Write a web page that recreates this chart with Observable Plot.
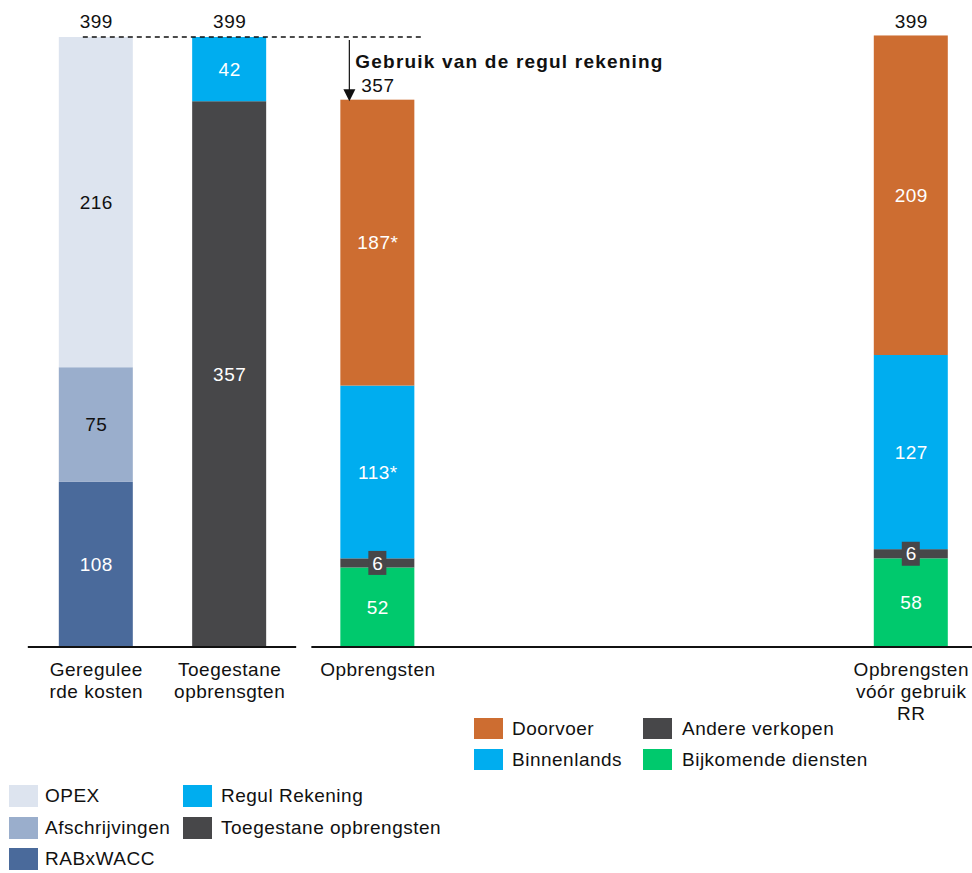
<!DOCTYPE html>
<html><head><meta charset="utf-8">
<script src="https://cdn.jsdelivr.net/npm/d3@7"></script>
<script src="https://cdn.jsdelivr.net/npm/@observablehq/plot@0.6"></script>
<style>
body{margin:0;background:#fff;font-family:"Liberation Sans",Arial,sans-serif;}
#wrap{position:relative;width:972px;height:873px;overflow:hidden;}
#wrap svg{position:absolute;left:0;top:0;}
.lt{position:absolute;font-size:19px;letter-spacing:0.5px;color:#111;white-space:nowrap;}
.sw{position:absolute;}
</style></head><body><div id="wrap"></div>
<script>
// ---- data ----
const categories = ["Geregulee\nrde kosten", "Toegestane\nopbrensgten", "Opbrengsten", "Opbrengsten\nvóór gebruik\nRR"];
const totals = [399, 399, 357, 399];

const costSeries = ["RABxWACC", "Afschrijvingen", "OPEX"];
const costValues = [108, 75, 216];
const costLabels = ["108", "75", "216"];

const allowedSeries = ["Toegestane opbrengsten", "Regul Rekening"];
const allowedValues = [357, 42];
const allowedLabels = ["357", "42"];

const revenueSeries = ["Bijkomende diensten", "Andere verkopen", "Binnenlands", "Doorvoer"];
const revenueValues = [52, 6, 113, 187];
const revenueLabels = ["52", "6", "113*", "187*"];
const revenueBeforeValues = [58, 6, 127, 209];
const revenueBeforeLabels = ["58", "6", "127", "209"];

const annotation = "Gebruik van de regul rekening";

// ---- styling ----
const colorOf = {
  "OPEX": "#dde4ef",
  "Afschrijvingen": "#9aaecc",
  "RABxWACC": "#4a6a9b",
  "Regul Rekening": "#00adef",
  "Toegestane opbrengsten": "#474749",
  "Doorvoer": "#cd6d31",
  "Binnenlands": "#00adef",
  "Andere verkopen": "#474749",
  "Bijkomende diensten": "#00c96d"
};
const darkText = new Set(["OPEX", "Afschrijvingen"]);
const FONT = '"Liberation Sans", Arial, sans-serif';

// build table
const rows = [];
function addBar(cat, series, values, labels) {
  series.forEach((s, i) => rows.push({cat, series: s, key: cat + "|" + s, value: values[i], label: labels[i]}));
}
addBar(categories[0], costSeries, costValues, costLabels);
addBar(categories[1], allowedSeries, allowedValues, allowedLabels);
addBar(categories[2], revenueSeries, revenueValues, revenueLabels);
addBar(categories[3], revenueSeries, revenueBeforeValues, revenueBeforeLabels);
const totalRows = categories.map((c, i) => ({cat: c, total: totals[i]}));

// x slots: spacer slots between the bars so the bars sit at uneven distances
const gaps = [8, 9, 35];
const slots = [];
categories.forEach((c, i) => {
  slots.push(c);
  if (i < gaps.length) for (let k = 0; k < gaps[i]; k++) slots.push(`gap${i}-${k}`);
});

const W = 972, H = 745;
const mL = 88.4, mR = 53.8;
const step = (W - mL - mR) / slots.length;
const barW = 74;
const inset = -(barW - step) / 2;

const chart = Plot.plot({
  width: W, height: H,
  marginLeft: mL, marginRight: mR, marginTop: 37, marginBottom: H - 647,
  style: {fontFamily: FONT, fontSize: "19px", letterSpacing: "0.5px", background: "#fff"},
  x: {type: "band", domain: slots, padding: 0, axis: null},
  y: {domain: [0, 399], axis: null},
  color: {domain: Object.keys(colorOf), range: Object.values(colorOf)},
  marks: [
    Plot.barY(rows, Plot.stackY({x: "cat", y: "value", z: "key", fill: "series", insetLeft: inset, insetRight: inset})),
    Plot.text(rows, Plot.stackY({x: "cat", y: "value", z: "key", text: d => darkText.has(d.series) ? "" : d.label, fill: "white", fontSize: 19})),
    Plot.text(rows, Plot.stackY({x: "cat", y: "value", z: "key", text: d => darkText.has(d.series) ? d.label : "", fill: "#111", fontSize: 19})),
    Plot.text(totalRows, {x: "cat", y: "total", text: d => String(d.total), dy: -15.5, fill: "#111", fontSize: 19}),
    Plot.text(categories, {x: d => d, frameAnchor: "bottom", lineAnchor: "top", dy: 13, lineHeight: 1.16, text: d => d, fill: "#111", fontSize: 19})
  ]
});

const wrap = document.getElementById("wrap");
wrap.appendChild(chart);

const sx = chart.scale("x"), sy = chart.scale("y");
const center = c => sx.apply(c) + sx.bandwidth / 2;
const svg = d3.select(chart);
const y0 = sy.apply(0);

// boxes behind the small "Andere verkopen" labels
const boxes = [];
[2, 3].forEach(ci => {
  const cat = categories[ci];
  let acc = 0;
  rows.filter(r => r.cat === cat).forEach(r => {
    if (r.series === "Andere verkopen") boxes.push({x: center(cat), y: sy.apply(acc + r.value / 2)});
    acc += r.value;
  });
});
const firstText = chart.querySelector('g[aria-label="text"]');
boxes.forEach(b => {
  const r = document.createElementNS("http://www.w3.org/2000/svg", "rect");
  r.setAttribute("x", b.x - 9); r.setAttribute("y", b.y - 12);
  r.setAttribute("width", 18); r.setAttribute("height", 24);
  r.setAttribute("fill", colorOf["Andere verkopen"]);
  chart.insertBefore(r, firstText);
});

// baselines (broken axis)
const g = svg.append("g");
g.append("line").attr("x1", center(categories[0]) - barW / 2 - 31).attr("x2", center(categories[1]) + barW / 2 + 30)
  .attr("y1", y0).attr("y2", y0).attr("stroke", "#111").attr("stroke-width", 2);
g.append("line").attr("x1", center(categories[2]) - barW / 2 - 29).attr("x2", W)
  .attr("y1", y0).attr("y2", y0).attr("stroke", "#111").attr("stroke-width", 2);

// dashed reference line at the top
const yTop = sy.apply(totals[0]);
g.append("line").attr("x1", center(categories[0]) - 13).attr("x2", center(categories[2]) + barW / 2 + 10)
  .attr("y1", yTop).attr("y2", yTop).attr("stroke", "#111").attr("stroke-width", 1.4).attr("stroke-dasharray", "5,4");

// arrow
const ax = center(categories[2]) - barW / 2 + 9;
const yEnd = sy.apply(totals[2]);
g.append("line").attr("x1", ax).attr("x2", ax).attr("y1", yTop + 3).attr("y2", yEnd - 10)
  .attr("stroke", "#111").attr("stroke-width", 1.2);
g.append("path").attr("d", `M${ax - 6},${yEnd - 12}L${ax + 6},${yEnd - 12}L${ax},${yEnd}Z`).attr("fill", "#111");

// annotation
g.append("text").attr("x", ax + 6).attr("y", yTop + 24).attr("dy", "0.35em")
  .attr("text-anchor", "start")
  .attr("font-family", FONT).attr("font-size", 19).attr("font-weight", "bold").attr("letter-spacing", "1.2px")
  .attr("fill", "#111").text(annotation);

// ---- legends (HTML below the chart area) ----
function legendItem(name, sx0, sy0, sw, sh, tx) {
  const s = document.createElement("div");
  s.className = "sw";
  Object.assign(s.style, {left: sx0 + "px", top: sy0 + "px", width: sw + "px", height: sh + "px", background: colorOf[name]});
  wrap.appendChild(s);
  const t = document.createElement("div");
  t.className = "lt";
  Object.assign(t.style, {left: tx + "px", top: sy0 + "px", height: sh + "px", lineHeight: sh + "px"});
  t.textContent = name;
  wrap.appendChild(t);
}
const legendRevenue = [["Doorvoer", "Binnenlands"], ["Andere verkopen", "Bijkomende diensten"]];
const legendCost = [["OPEX", "Afschrijvingen", "RABxWACC"], ["Regul Rekening", "Toegestane opbrengsten"]];
const revCols = [{x: 474, tx: 512}, {x: 643, tx: 682}], revRows = [718, 749];
legendRevenue.forEach((col, ci) => col.forEach((n, ri) => legendItem(n, revCols[ci].x, revRows[ri], 29, 21, revCols[ci].tx)));
const costCols = [{x: 9, tx: 45}, {x: 183, tx: 221}], costRows = [785, 817, 848];
legendCost.forEach((col, ci) => col.forEach((n, ri) => legendItem(n, costCols[ci].x, costRows[ri], 29, 22, costCols[ci].tx)));
</script>
</body></html>
